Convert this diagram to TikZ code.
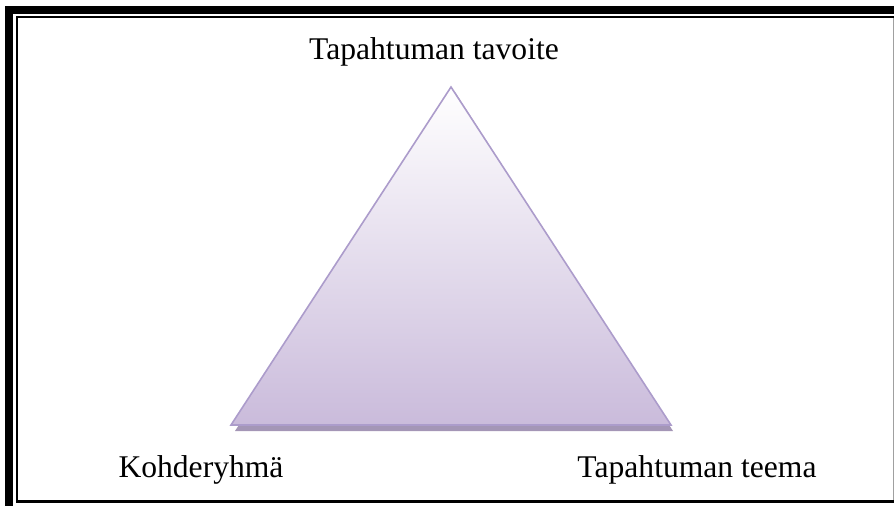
\documentclass[tikz,border=0pt]{standalone}
\usepackage{fontspec}
\setmainfont{Liberation Serif}
\definecolor{triedge}{HTML}{AC9CCB}
\definecolor{trifill}{HTML}{CABBDB}
\definecolor{trishadow}{HTML}{A496B6}
\definecolor{rightline}{HTML}{A0A0A0}
\tikzset{
  lbl/.style={inner sep=0pt, anchor=base, font=\fontsize{31.6}{36}\selectfont, text=black},
  borderbar/.style={fill=black},
  innerline/.style={draw=black},
  tri/.style={draw=triedge, line width=1.6pt, line join=miter, top color=white, bottom color=trifill, shading angle=0},
  trish/.style={fill=trishadow}
}
\begin{document}
\begin{tikzpicture}[x=1pt,y=-1pt]
\useasboundingbox (0,0) rectangle (894,506);
% page border
\fill[borderbar] (5,6) rectangle (894,14);
\fill[borderbar] (5,6) rectangle (13,506);
\draw[innerline, line width=2pt] (16,17) -- (894,17);
\draw[innerline, line width=1.6pt] (17,16) -- (17,502);
\draw[innerline, line width=2.6pt] (16,501.5) -- (894,501.5);
\draw[rightline, line width=1pt] (893,18) -- (893,500);
% triangle
\coordinate (apex) at (451,87);
\coordinate (bl) at (231,425);
\coordinate (br) at (671,425);
\fill[trish] ([shift={(4,5)}]apex) -- ([shift={(4,6)}]bl) -- ([shift={(2,6)}]br) -- cycle;
\path[tri] (apex) -- (bl) -- (br) -- cycle;
% labels
\node[lbl] (goal) at (434,59) {Tapahtuman tavoite};
\node[lbl] (group) at (201,477) {Kohderyhmä};
\node[lbl] (theme) at (697,477) {Tapahtuman teema};
\end{tikzpicture}
\end{document}
